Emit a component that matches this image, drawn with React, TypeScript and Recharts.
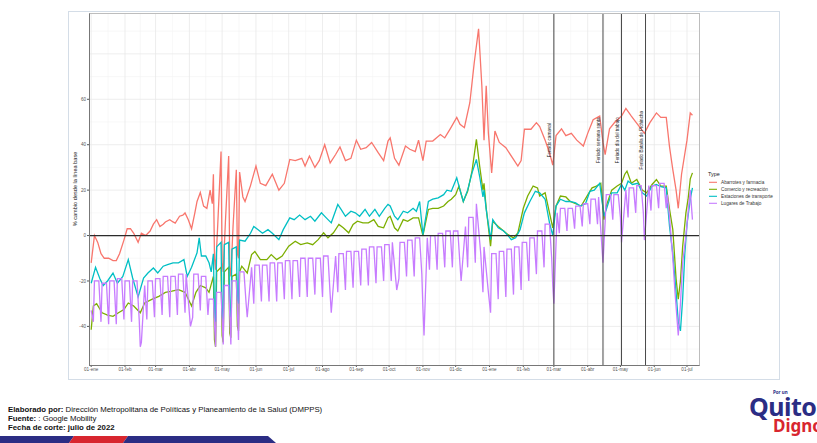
import { LineChart, Line, XAxis, YAxis, CartesianGrid, ReferenceLine, ReferenceDot } from "recharts"

// días contados desde el 01-ene-2021
const diasMes = [0, 31, 59, 90, 120, 151, 181, 212, 243, 273, 304, 334, 365, 396, 424, 455, 485, 516, 546]
const etiquetasMes = [
	"01-ene", "01-feb", "01-mar", "01-abr", "01-may", "01-jun", "01-jul", "01-ago", "01-sep", "01-oct",
	"01-nov", "01-dic", "01-ene", "01-feb", "01-mar", "01-abr", "01-may", "01-jun", "01-jul",
]
const yTicks = [-40, -20, 0, 20, 40, 60]
const yGridMayor = [-40, -20, 0, 20, 40, 60, 80]
const yGridMenor = [-50, -30, -10, 10, 30, 50, 70, 90]

const feriados = [
	{ dia: 424, texto: "Feriado carnaval" },
	{ dia: 469, texto: "Feriado semana santa" },
	{ dia: 486, texto: "Feriado día del trabajo" },
	{ dia: 508, texto: "Feriado Batalla de Pichincha" },
]

const abarrotes = [
	[0, -12], [3, 0], [6, -3], [9, -8], [12, -10], [16, -10], [20, -11], [23, -11], [26, -8], [30, -2], [33, 3], [36, 3],
	[39, 1], [43, -3], [46, 1], [50, 0], [54, 2], [57, 5], [60, 7], [63, 4], [66, 5], [68, 6], [72, 7], [75, 6], [77, 5.5],
	[81, 8.5], [84, 9], [86, 10], [89, 7], [92, 3], [95, 10], [97, 15], [100, 19], [103, 13], [106, 12], [109, 20],
	[111, 14], [112, 27], [113, -10], [114, -15], [116, 5], [119, 37], [120, -12], [121, -16], [123, 6], [126, 35],
	[127, -14], [128, -18], [130, 4], [133, 29], [134, -8], [135, -10], [136, 28], [139, 17], [141, 15], [146, 22],
	[151, 30.6], [155, 23], [160, 22], [166, 27], [172, 20], [177, 23], [182, 33.5], [187, 33], [193, 34], [196, 30.6],
	[200, 35], [205, 30], [209, 33], [214, 40], [219, 32], [224, 35.7], [228, 39], [233, 33], [238, 34], [243, 42],
	[247, 38], [252, 38.7], [257, 41], [263, 36.5], [268, 33], [272, 41.6], [274, 43], [278, 34], [282, 31], [288, 39.4],
	[292, 38], [297, 37], [300, 42], [304, 33], [307, 41.6], [313, 41.6], [320, 44.5], [324, 43], [329, 47], [335, 52],
	[338, 49], [342, 47.5], [347, 58.5], [351, 76], [355, 91], [358, 66], [360, 42], [362, 66], [364, 45], [367, 27.6],
	[370, 46], [374, 41], [380, 38.7], [387, 33.5], [391, 30.6], [394, 33], [397, 46.8], [403, 46.8], [408, 49.7],
	[411, 48], [416, 42], [420, 36.5], [423, 31], [426, 44], [431, 47], [435, 44], [440, 45], [445, 42], [451, 39.4],
	[455, 45], [460, 51], [466, 52.6], [469, 41], [471, 35.6], [475, 47], [480, 50], [486, 52.6], [490, 56], [495, 52.6],
	[503, 47.5], [507, 45], [512, 49.7], [518, 54], [522, 52], [527, 52], [530, 39], [533, 29], [536, 20], [538, 12],
	[541, 27], [546, 42], [549, 54], [551, 53],
]

const comercio = [
	[0, -41.5], [2, -31], [5, -30], [10, -34], [15, -35], [20, -35.6], [25, -34], [30, -32.6], [34, -29.7], [39, -31],
	[45, -34], [49, -29.7], [56, -28], [62, -26.8], [68, -25], [74, -24.5], [80, -23.8], [86, -25], [92, -31], [96, -25],
	[100, -22], [105, -23], [108, -25], [112, -18], [113, -46], [114, -49], [115, -16], [119, -14], [120, -44], [121, -47],
	[122, -16], [126, -14], [127, -43], [128, -45], [129, -18], [133, -17], [134, -40], [135, -42], [136, -16],
	[138, -13.5], [143, -16.5], [147, -8.4], [150, -7], [155, -10.6], [161, -10.6], [165, -8.4], [170, -10.6], [175, -9],
	[181, -4.7], [187, -2.5], [192, -4], [198, -3.2], [203, -4], [208, -1.8], [213, 1.2], [217, -1], [222, 1.2],
	[227, 4.9], [231, 3.4], [236, 1.2], [240, 4.9], [244, 6.3], [249, 5.6], [254, 5.6], [259, 7], [263, 4], [268, 3.4],
	[272, 7.8], [274, 8.5], [278, 3.4], [281, 2], [286, 7], [290, 6.3], [295, 7.8], [300, 7.8], [304, 0], [309, 11.5],
	[313, 12], [318, 12], [323, 13], [327, 15], [330, 16], [334, 18], [337, 21.8], [341, 15], [345, 19.5], [349, 28.4],
	[353, 42.4], [356, 30.6], [359, 20], [360, 23], [362, 12], [366, -4.7], [368, 6.3], [373, 4], [378, 2], [382, 0.4],
	[387, -1], [391, 1.2], [396, 12], [400, 17.4], [405, 21.8], [409, 21], [411, 17.4], [416, 18.8], [420, 10],
	[423, 3.4], [426, 13], [430, 17.4], [435, 17], [439, 15], [444, 14], [449, 13], [454, 17], [459, 21], [463, 21.8],
	[467, 23], [470, 7], [472, 13], [477, 20], [482, 21.8], [486, 23], [489, 27], [491, 28.4], [495, 23], [500, 24.7],
	[505, 20], [509, 18.8], [514, 22.5], [518, 24.7], [522, 21.8], [527, 21.8], [530, 11.5], [533, 2.6], [536, -19],
	[538, -28], [540, -20], [542, -5], [545, 10], [547, 16], [549, 25], [551, 27.6],
]

const estaciones = [
	[0, -21], [4, -14], [8, -19], [11, -22], [15, -20], [20, -16.5], [24, -21], [29, -18], [34, -10.6], [38, -18.7],
	[43, -27], [48, -18.7], [52, -16.5], [57, -14.3], [61, -16.5], [66, -13.5], [70, -12.8], [75, -12], [80, -12],
	[85, -10.6], [88, -18], [92, -14], [97, -7.6], [99, -1], [101, -9], [105, -9], [108, -12], [110, -16], [112, -8],
	[113, -36], [114, -38], [115, -5], [119, -3], [120, -35], [121, -38], [122, -4], [126, -3], [127, -34], [128, -36],
	[129, -6], [133, -5], [134, -28], [135, -30], [136, -2], [141, -2.5], [146, 1], [149, 4], [153, 2.6], [157, 1],
	[162, 2.6], [166, 1], [172, -1.8], [176, 2.6], [182, 7.8], [186, 7], [191, 9], [196, 7], [201, 8.5], [205, 6.3],
	[211, 10], [215, 8], [220, 5.6], [226, 13.7], [229, 11.5], [233, 8.5], [238, 10.7], [242, 10], [246, 8.5],
	[251, 11.5], [255, 8.5], [260, 11.5], [264, 8.5], [269, 12], [272, 13.7], [274, 13], [278, 8.5], [281, 7],
	[286, 10.7], [290, 10], [295, 12], [298, 10.7], [301, 15], [304, 0.4], [309, 15], [313, 16], [318, 16.6], [323, 18],
	[326, 20], [330, 19.5], [335, 25.4], [338, 20], [341, 15], [345, 20], [349, 27.6], [353, 33.5], [356, 26], [359, 17],
	[360, 20], [362, 11.5], [366, -1.8], [368, 7], [373, 3.4], [378, 2], [382, 0], [385, -1.8], [389, -1], [393, 2.6],
	[397, 10], [402, 15], [407, 19.5], [411, 18.8], [416, 16], [420, 5.6], [423, 0], [426, 13], [430, 16], [435, 15],
	[439, 15], [444, 14.4], [448, 13], [453, 14], [457, 19.5], [461, 20], [466, 23], [470, 8.5], [472, 11.5],
	[477, 18.8], [482, 18.8], [486, 22.5], [489, 20], [492, 24], [496, 22.5], [501, 23], [505, 18.8], [509, 17.4],
	[514, 21.8], [518, 22.5], [522, 21.5], [527, 21], [530, 4], [533, -8], [536, -25], [538, -38], [540, -42],
	[542, -28], [544, -8], [546, 5], [549, 16], [551, 21],
]

// Lugares de trabajo: nivel entre semana (lun-vie) y mínimo del domingo, una entrada por semana desde el 04-ene-2021
const lugaresAlto = [
	-20, -21, -20, -19, -20, -20, -22, -20, -19, -18, -18, -17, -17, -17, -18, -28, -25, -22, -20, -16, -14, -13,
	-13, -12, -12, -11, -11, -10, -10, -10, -9, -9, -8, -7, -7, -6, -5, -5, -4, -3, -3, -2, -1, -1, 0, 1, 2, 2,
	4, 8, 14, -5, -8, -7, -6, -5, -3, -1, 2, 5, 10, 12, 12, 13, 14, 16, 17, 18, 18, 20, 21, 22, 22, 22, 23,
]
const lugaresBajo = [
	-38, -39, -39, -37, -38, -37, -37, -36, -35, -36, -35, -34, -36, -33, -35, -49, -48, -48, -46, -30, -30, -29,
	-29, -29, -28, -28, -27, -27, -26, -27, -26, -25, -24, -23, -22, -22, -21, -20, -20, -19, -18, -18, -17, -15,
	-15, -14, -14, -13, -14, -12, -25, -34, -28, -27, -26, -24, -20, -17, -14, -10, 1, 2, 3, 4, 5, 5, 6, 7, 8,
	8, 10, 10, 11, 12, 12,
]
const lugaresInicio = [[0, -33], [2, -38]]
const lugaresFeriados = [
	[45, -49], [46, -47], [91, -40], [143, -36], [220, -34], [280, -24], [304, -32], [305, -44], [339, -20],
	[357, -8], [364, -25], [423, -22], [424, -30], [469, -12], [486, -3], [507, -2],
]
const lugaresParo = [
	[528, 18], [530, 8], [533, -10], [535, -25], [538, -44], [540, -30], [542, -12], [545, 0], [547, 10], [549, 20], [551, 7],
]

const series = [
	{ nombre: "Abarrotes y farmacia", color: "#F8766D" },
	{ nombre: "Comercio y recreación", color: "#7CAE00" },
	{ nombre: "Estaciones de transporte", color: "#00BFC4" },
	{ nombre: "Lugares de Trabajo", color: "#C77CFF" },
]

const aPuntos = (pares: number[][]) => pares.map(([dia, valor]) => ({ dia, valor }))

function construirLugares() {
	const mapa = new Map<number, number>()
	lugaresInicio.forEach(([d, v]) => mapa.set(d, v))
	lugaresAlto.forEach((alto, k) => {
		mapa.set(3 + 7 * k, alto)
		mapa.set(7 + 7 * k, alto)
		mapa.set(9 + 7 * k, lugaresBajo[k])
	})
	lugaresFeriados.forEach(([d, v]) => mapa.set(d, v))
	lugaresParo.forEach(([d, v]) => mapa.set(d, v))
	return [...mapa.entries()].sort((a, b) => a[0] - b[0]).map(([dia, valor]) => ({ dia, valor }))
}

const datos = [aPuntos(abarrotes), aPuntos(comercio), aPuntos(estaciones), construirLugares()]

const vGridMenor = diasMes.slice(0, -1).map((d, i) => (d + diasMes[i + 1]) / 2)

const fuente = "'Liberation Sans', Arial, sans-serif"

function EtiquetaY({ viewBox }: any) {
	const x = viewBox.x + 8
	const y = viewBox.y + viewBox.height / 2
	return (
		<text x={x} y={y} transform={`rotate(-90 ${x} ${y})`} textAnchor="middle" fontSize={5.6} fill="#222" fontFamily={fuente}>
			% cambio desde la línea base
		</text>
	)
}

function TextoFeriado(texto: string) {
	return (props: any) => {
		const x = props.cx - 3
		const y = props.cy
		return (
			<text x={x} y={y} transform={`rotate(-90 ${x} ${y})`} textAnchor="middle" fontSize={4.6} fill="#1a1a1a" fontFamily={fuente}>
				{texto}
			</text>
		)
	}
}

export default function App() {
	return (
		<div style={{ position: "absolute", left: 0, top: 0, width: 817, height: 443, background: "#fff", fontFamily: fuente, overflow: "hidden" }}>
			<div style={{ position: "absolute", left: 68, top: 11, width: 712, height: 369, border: "1px solid #d4dde7", boxSizing: "border-box" }} />
			<div style={{ position: "absolute", left: 0, top: 0 }}>
				<LineChart width={817} height={443} margin={{ top: 13, right: 118, bottom: 68, left: 69 }}>
					<CartesianGrid horizontalValues={yGridMenor} verticalValues={vGridMenor} stroke="#f3f3f3" strokeWidth={0.6} />
					<CartesianGrid horizontalValues={yGridMayor} verticalValues={diasMes} stroke="#e9e9e9" strokeWidth={0.8} />
					<XAxis
						type="number"
						dataKey="dia"
						domain={[-2, 557]}
						ticks={diasMes}
						interval={0}
						tickFormatter={(v: number) => etiquetasMes[diasMes.indexOf(v)] ?? ""}
						height={10}
						tickSize={2}
						tickMargin={1}
						axisLine={false}
						tickLine={{ stroke: "#555" }}
						tick={{ fontSize: 4.6, fill: "#555", fontFamily: fuente }}
					/>
					<YAxis
						type="number"
						domain={[-57, 98]}
						ticks={yTicks}
						interval={0}
						width={20}
						tickSize={2}
						tickMargin={1}
						axisLine={false}
						tickLine={{ stroke: "#555" }}
						tick={{ fontSize: 4.6, fill: "#555", fontFamily: fuente }}
						label={<EtiquetaY />}
					/>
					{series.map((s, i) => (
						<Line
							key={s.nombre}
							data={datos[i]}
							dataKey="valor"
							type="linear"
							stroke={s.color}
							strokeWidth={1.3}
							dot={false}
							isAnimationActive={false}
						/>
					))}
					<ReferenceLine y={0} stroke="#2b2b2b" strokeWidth={1.3} />
					{feriados.map((f) => (
						<ReferenceLine key={f.dia} x={f.dia} stroke="#4a4a4a" strokeWidth={1} />
					))}
					{feriados.map((f) => (
						<ReferenceDot key={"t" + f.dia} x={f.dia} y={42} r={0} shape={TextoFeriado(f.texto)} />
					))}
				</LineChart>
			</div>
			<div style={{ position: "absolute", left: 89, top: 13, width: 611, height: 353, boxSizing: "border-box", borderTop: "1px solid #bdbdbd", borderRight: "1px solid #bdbdbd", borderLeft: "1px solid #777", borderBottom: "1px solid #777" }} />
			<svg width={817} height={443} style={{ position: "absolute", left: 0, top: 0 }}>
				<text x={708} y={176} fontSize={5.4} fill="#222" fontFamily={fuente}>Type</text>
				{series.map((s, i) => (
					<g key={s.nombre}>
						<line x1={709} x2={717} y1={182.3 + i * 7} y2={182.3 + i * 7} stroke={s.color} strokeWidth={1.1} />
						<text x={721} y={184 + i * 7} fontSize={4.7} fill="#333" fontFamily={fuente}>{s.nombre}</text>
					</g>
				))}
				<g fontFamily={fuente} fontSize={7.8} fill="#111">
					<text x={8} y={411.5}>
						<tspan fontWeight="bold">Elaborado por:</tspan> Dirección Metropolitana de Políticas y Planeamiento de la Salud (DMPPS)
					</text>
					<text x={8} y={420.5}>
						<tspan fontWeight="bold">Fuente:</tspan> : Google Mobility
					</text>
					<text x={8} y={429.5} fontWeight="bold">Fecha de corte: julio de 2022</text>
				</g>
				<polygon points="0,436 74,436 69,443 0,443" fill="#2b2d84" />
				<polygon points="74,436 128,436 123,443 69,443" fill="#d8262f" />
				<polygon points="128,436 268,436 276,443 123,443" fill="#2b2d84" />
				<g fontFamily="'Noto Sans', 'Open Sans', sans-serif" fontWeight="bold">
					<text x={773} y={394} fontSize={4.5} fill="#2b2d84">Por un</text>
					<text x={749} y={416} fontSize={25} fill="#2b2d84" letterSpacing={-0.5}>Quito</text>
					<text x={773} y={432} fontSize={17} fill="#d8262f">Digno</text>
				</g>
			</svg>
		</div>
	)
}
